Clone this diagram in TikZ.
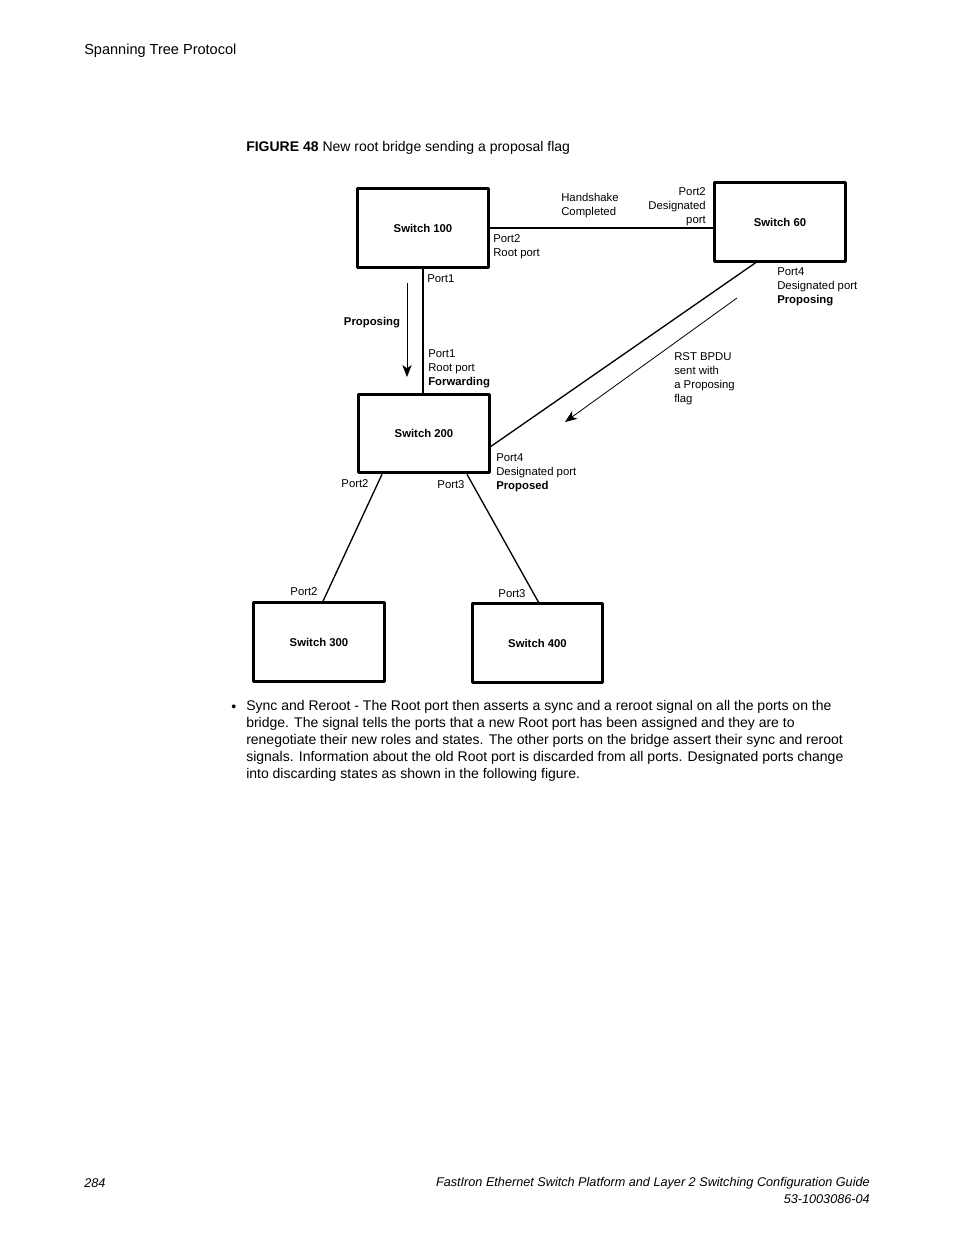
\documentclass[tikz,border=0pt]{standalone}
\usepackage{fontspec}
\setmainfont{Liberation Sans}
\usetikzlibrary{arrows.meta,calc}
\begin{document}
\begin{tikzpicture}[x=0.75pt,y=-0.75pt,>={Stealth[length=9pt,width=7pt,inset=2.5pt]},line join=round,
	sw/.style={draw,line width=2.2pt,minimum width=98pt,minimum height=59pt,font=\fontsize{8.5}{10}\selectfont\bfseries},
	lbl/.style={inner sep=0pt,font=\fontsize{8.5}{10.5}\selectfont,align=left},
	link/.style={line width=1pt},
	txt/.style={inner sep=0pt,font=\fontsize{10.5}{12.75}\selectfont,align=left}]
	\useasboundingbox (0,0) rectangle (954,1235);
	\node[txt,anchor=west,font=\fontsize{10.9}{12}\selectfont] (hdr) at (84,51) {Spanning Tree Protocol};
	\node[txt,anchor=west,font=\fontsize{10.5}{12}\selectfont] (cap) at (246,148) {\textbf{FIGURE 48} New root bridge sending a proposal flag};
	\foreach \n/\x/\y/\t in {s100/423/228/Switch 100,s60/780/222/Switch 60,s200/424/433.5/Switch 200,s300/319/642/Switch 300,s400/537.5/643/Switch 400}
	\node[sw] (\n) at (\x,\y) {\t};
	\draw[link] (s100.east) -- (s100.east -| s60.west);
	\draw[line width=1.6pt] (s100.south) -- (s100.south |- s200.north);
	\draw[link] (s60.239) -- (s200.-11);
	\draw[link] ($(s200.south)+(-42,0)$) -- ($(s300.north)+(4,0)$);
	\draw[link] ($(s200.south)+(43,0)$) -- ($(s400.north)+(1,0)$);
	\coordinate (pa) at (407,283); \coordinate (pb) at (407,377);
	\coordinate (ra) at (737,298); \coordinate (rb) at (565,422);
	\draw[->,line width=0.6pt] (pa) -- (pb);
	\draw[->,line width=0.6pt] (ra) -- (rb);
	\node[lbl,anchor=north west] (hs) at (561,193) {Handshake\\Completed};
	\node[lbl,anchor=north east,align=right] (p60a) at (706,187) {Port2\\Designated\\port};
	\node[lbl,anchor=north west] (p100b) at (493,234) {Port2\\Root port};
	\node[lbl,anchor=north west] (p100a) at (427,274) {Port1};
	\node[lbl,anchor=north west] (p60b) at (777,267) {Port4\\Designated port\\\textbf{Proposing}};
	\node[lbl,font=\fontsize{8.5}{10.5}\selectfont\bfseries] (prop) at (372,323) {Proposing};
	\node[lbl,anchor=north west] (p200a) at (428,349) {Port1\\Root port\\\textbf{Forwarding}};
	\node[lbl,anchor=north west] (rst) at (674,352) {RST BPDU\\sent with\\a Proposing\\flag};
	\node[lbl,anchor=north west] (p200d) at (496,453) {Port4\\Designated port\\\textbf{Proposed}};
	\node[lbl] (p200b) at (355,484) {Port2};
	\node[lbl] (p200c) at (451,485) {Port3};
	\node[lbl] (p300) at (304,592) {Port2};
	\node[lbl] (p400) at (512,594) {Port3};
	\node[txt,anchor=west] (bul) at (231,708) {•};
	\node[txt,anchor=north west] (par) at (246,700) {Sync and Reroot - The Root port then asserts a sync and a reroot signal on all the ports on the\\bridge. The signal tells the ports that a new Root port has been assigned and they are to\\renegotiate their new roles and states. The other ports on the bridge assert their sync and reroot\\signals. Information about the old Root port is discarded from all ports. Designated ports change\\into discarding states as shown in the following figure.};
	\node[txt,anchor=west,font=\fontsize{9.5}{12.75}\selectfont\itshape] (pg) at (84,1183) {284};
	\node[txt,anchor=north east,align=right,font=\fontsize{9.5}{12.75}\selectfont\itshape] (ft) at (870,1177) {FastIron Ethernet Switch Platform and Layer 2 Switching Configuration Guide\\53-1003086-04};
\end{tikzpicture}
\end{document}
